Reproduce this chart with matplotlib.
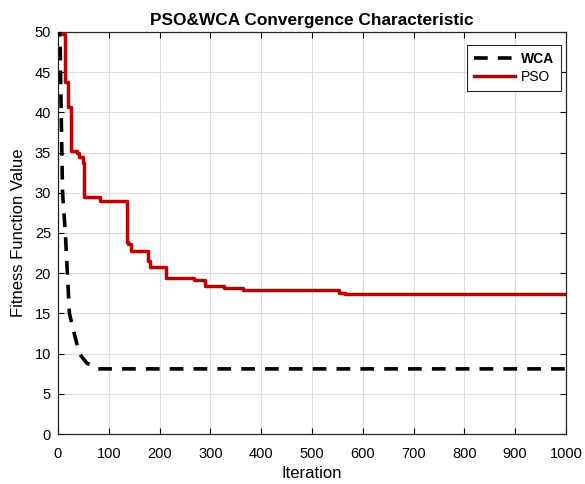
import matplotlib
matplotlib.use("Agg")
import matplotlib.pyplot as plt

plt.rcParams['font.family'] = ['Liberation Sans', 'DejaVu Sans']

# PSO best fitness (step curve)
pso_iter = [0, 9, 14, 19, 19, 26, 37, 42, 49, 51, 82, 135, 137, 143, 178, 181,
            213, 240, 268, 289, 327, 364, 553, 565, 800, 1000]
pso_val = [55, 49.8, 43.8, 42.6, 40.7, 35.2, 35.0, 34.5, 33.7, 29.5, 29.0, 23.9,
           23.6, 22.8, 21.5, 20.8, 19.4, 19.4, 19.1, 18.4, 18.1, 17.9, 17.5,
           17.45, 17.4, 17.4]

# WCA best fitness
wca_iter = [3, 5, 9, 14.5, 18.5, 22.5, 32, 42, 57, 68, 75, 1000]
wca_val = [55, 45, 30, 25, 20, 15, 12.5, 10, 8.8, 8.5, 8.1, 8.1]

x_ticks = [0, 100, 200, 300, 400, 500, 600, 700, 800, 900, 1000]
y_ticks = [0, 5, 10, 15, 20, 25, 30, 35, 40, 45, 50]

fig = plt.figure(figsize=(5.85, 4.84), dpi=100)
ax = fig.add_axes([0.0991, 0.1033, 0.8684, 0.8306])

ax.plot(wca_iter, wca_val, color='black', lw=2.6, linestyle=(0, (3.8, 2.8)),
        label='WCA', zorder=3)
ax.plot(pso_iter, pso_val, color='#c00000', lw=2.5, drawstyle='steps-post',
        label='PSO', zorder=4)

ax.set_xlim(0, 1000)
ax.set_ylim(0, 50)
ax.set_xticks(x_ticks)
ax.set_yticks(y_ticks)
ax.tick_params(axis='both', direction='in', top=True, right=True,
               labelsize=10.5, length=4, width=0.8)
ax.tick_params(axis='x', pad=9)
ax.tick_params(axis='y', pad=5)
ax.grid(True, color='#dcdcdc', lw=0.8)
ax.set_axisbelow(True)
for s in ax.spines.values():
    s.set_linewidth(0.9)
    s.set_color('#262626')

ax.set_xlabel('Iteration', fontsize=12, labelpad=4)
ax.set_ylabel('Fitness Function Value', fontsize=12, labelpad=6)
ax.set_title('PSO&WCA Convergence Characteristic', fontsize=12.4,
             fontweight='bold', pad=5)

leg = ax.legend(loc='upper right', bbox_to_anchor=(0.990, 0.968), fontsize=10,
                frameon=True, fancybox=False, edgecolor='#262626',
                handlelength=3.0, handletextpad=0.4, borderpad=0.5,
                labelspacing=0.3, framealpha=1, borderaxespad=0)
leg.get_frame().set_linewidth(0.8)
leg.get_texts()[0].set_fontweight('bold')

fig.savefig('out.png', dpi=100)
